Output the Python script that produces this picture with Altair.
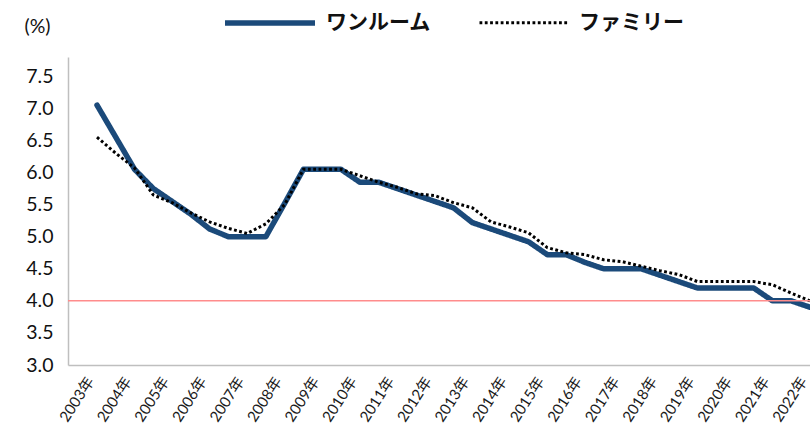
import altair as alt
import pandas as pd

periods = [2003.0, 2003.5, 2004.0, 2004.5, 2005.0, 2005.5, 2006.0, 2006.5, 2007.0, 2007.5,
           2008.0, 2008.5, 2009.0, 2009.5, 2010.0, 2010.5, 2011.0, 2011.5, 2012.0, 2012.5,
           2013.0, 2013.5, 2014.0, 2014.5, 2015.0, 2015.5, 2016.0, 2016.5, 2017.0, 2017.5,
           2018.0, 2018.5, 2019.0, 2019.5, 2020.0, 2020.5, 2021.0, 2021.5, 2022.0]
one_room = [7.05, 6.55, 6.05, 5.75, 5.55, 5.35, 5.12, 5.0, 5.0, 5.0,
            5.52, 6.05, 6.05, 6.05, 5.85, 5.85, 5.75, 5.65, 5.55, 5.45,
            5.22, 5.12, 5.02, 4.92, 4.72, 4.72, 4.6, 4.5, 4.5, 4.5,
            4.4, 4.3, 4.2, 4.2, 4.2, 4.2, 4.0, 4.0, 3.9]
family = [6.55, 6.3, 6.07, 5.65, 5.53, 5.37, 5.23, 5.13, 5.05, 5.2,
          5.5, 6.05, 6.05, 6.05, 5.95, 5.85, 5.77, 5.67, 5.64, 5.53,
          5.45, 5.23, 5.15, 5.06, 4.83, 4.75, 4.72, 4.64, 4.61, 4.54,
          4.47, 4.41, 4.3, 4.3, 4.3, 4.3, 4.25, 4.12, 4.0]
series_names = ["ワンルーム", "ファミリー"]
year_ticks = [2003, 2004, 2005, 2006, 2007, 2008, 2009, 2010, 2011, 2012,
              2013, 2014, 2015, 2016, 2017, 2018, 2019, 2020, 2021, 2022]
y_ticks = [3.0, 3.5, 4.0, 4.5, 5.0, 5.5, 6.0, 6.5, 7.0, 7.5]
ref_level = [4.0]

df = pd.concat([
    pd.DataFrame({"period": periods, "rate": one_room, "series": series_names[0]}),
    pd.DataFrame({"period": periods, "rate": family, "series": series_names[1]}),
])
ref_df = pd.DataFrame({"level": ref_level})

FONT = "Lato, Noto Sans CJK JP"
Y_SCALE = alt.Scale(domain=[3.0, 7.8], nice=False, zero=False)

x_enc = alt.X("period:Q",
              scale=alt.Scale(domain=[2002.227, 2022.0], nice=False, zero=False),
              axis=alt.Axis(values=year_ticks, labelExpr="datum.value + '年'",
                            labelAngle=-57, labelAlign="right", labelBaseline="middle",
                            labelFontSize=15, labelFont=FONT, labelColor="#1a1a1a",
                            labelPadding=13, labelOffset=-7,
                            ticks=False, grid=False, domainColor="#bfbfbf",
                            domainWidth=1.5, title=None, labelOverlap=False))
y_axis = alt.Axis(values=y_ticks, format=".1f", labelFontSize=19.5,
                  labelFont=FONT, labelColor="#111111", labelPadding=15,
                  labelOverlap=False, labelBound=False, tickCount=10,
                  ticks=False, grid=False, domainColor="#bfbfbf",
                  domainWidth=1.5, title="(%)", titleAngle=0,
                  titleX=-31, titleY=-31, titleAlign="center",
                  titleBaseline="middle", titleFontSize=19.5,
                  titleFontWeight="normal", titleFont=FONT,
                  titleColor="#111111")
y_enc = alt.Y("rate:Q", scale=Y_SCALE, axis=y_axis)

color_scale = alt.Scale(domain=series_names, range=["#1b4a7a", "#000000"])
dash_scale = alt.Scale(domain=series_names, range=[[1, 0], [2.8, 2.5]])
width_scale = alt.Scale(domain=series_names, range=[5.5, 3.0])

legend = alt.Legend(orient="none", legendX=154, legendY=-82, direction="horizontal",
                    title=None, symbolType="stroke", symbolSize=8100,
                    labelFontSize=21, labelFont="Noto Sans CJK JP", labelFontWeight="bold",
                    labelColor="#111111", labelOffset=8, columnPadding=42)

base = alt.Chart(df).encode(
    x=x_enc, y=y_enc,
    color=alt.Color("series:N", scale=color_scale, legend=legend, sort=series_names),
    strokeDash=alt.StrokeDash("series:N", scale=dash_scale, legend=legend, sort=series_names),
    strokeWidth=alt.StrokeWidth("series:N", scale=width_scale, legend=legend, sort=series_names),
)

line_one = base.transform_filter(alt.datum.series == series_names[0]).mark_line(
    strokeJoin="round", strokeCap="round")
line_fam = base.transform_filter(alt.datum.series == series_names[1]).mark_line(
    strokeJoin="round", strokeCap="butt")

ref_rule = alt.Chart(ref_df).mark_rule(color="#ff8c8c", strokeWidth=1.5).encode(
    y=alt.Y("level:Q", scale=Y_SCALE, axis=y_axis)
)

chart = alt.layer(line_one, line_fam, ref_rule).properties(
    width=742, height=308,
    padding={"left": 68, "top": 57, "right": 0, "bottom": 68},
    autosize=alt.AutoSizeParams(type="none"),
    background="white",
).configure_view(stroke=None)

chart.save("out.html", embed_options={"renderer": "svg", "actions": False})
